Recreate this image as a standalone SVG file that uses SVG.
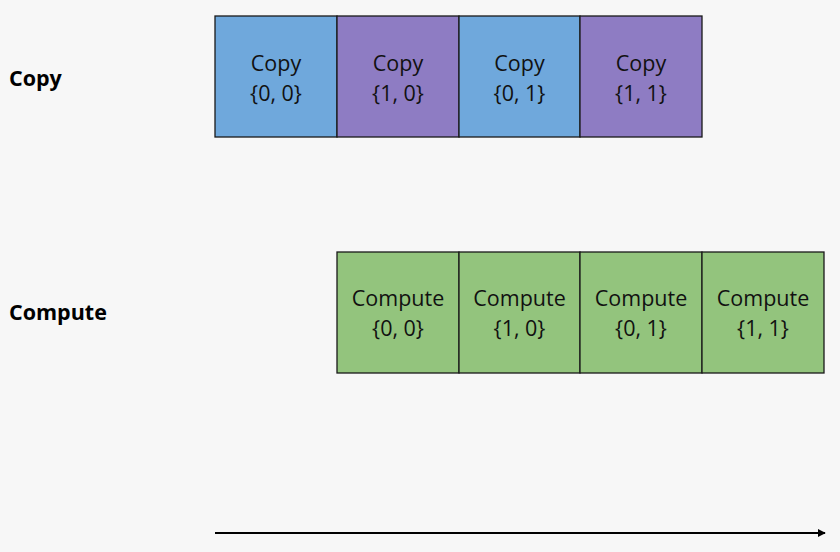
<svg xmlns="http://www.w3.org/2000/svg" width="840" height="552" viewBox="0 0 840 552">
<defs>
<style>
.box{stroke:#1a1a1a;stroke-width:1.3}
.blue{fill:#6fa8dc}
.purple{fill:#8e7cc3}
.green{fill:#93c47d}
.t{font-family:"Open Sans","Liberation Sans",sans-serif;font-size:21.5px;fill:#111;text-anchor:middle}
.lbl{font-family:"Open Sans","Liberation Sans",sans-serif;font-size:21.5px;font-weight:bold;fill:#000}
</style>
<marker id="arr" viewBox="0 0 10 10" refX="9" refY="5" markerWidth="4" markerHeight="4" orient="auto" markerUnits="strokeWidth">
<path d="M0,0 L10,5 L0,10 z" fill="#000"/>
</marker>
</defs>
<rect x="0" y="0" width="840" height="552" fill="#f7f7f7"/>
<g id="label-copy"><text class="lbl" x="9" y="86">Copy</text></g>
<g id="label-compute"><text class="lbl" x="9" y="320">Compute</text></g>
<g id="copy00"><rect class="box blue" x="215" y="16" width="122" height="121"/><text class="t" x="276" y="71">Copy</text><text class="t" x="276" y="101">{0, 0}</text></g>
<g id="copy10"><rect class="box purple" x="337" y="16" width="122" height="121"/><text class="t" x="398" y="71">Copy</text><text class="t" x="398" y="101">{1, 0}</text></g>
<g id="copy01"><rect class="box blue" x="459" y="16" width="121" height="121"/><text class="t" x="519.5" y="71">Copy</text><text class="t" x="519.5" y="101">{0, 1}</text></g>
<g id="copy11"><rect class="box purple" x="580" y="16" width="122" height="121"/><text class="t" x="641" y="71">Copy</text><text class="t" x="641" y="101">{1, 1}</text></g>
<g id="comp00"><rect class="box green" x="337" y="252" width="122" height="121"/><text class="t" x="398" y="306">Compute</text><text class="t" x="398" y="336">{0, 0}</text></g>
<g id="comp10"><rect class="box green" x="459" y="252" width="121" height="121"/><text class="t" x="519.5" y="306">Compute</text><text class="t" x="519.5" y="336">{1, 0}</text></g>
<g id="comp01"><rect class="box green" x="580" y="252" width="122" height="121"/><text class="t" x="641" y="306">Compute</text><text class="t" x="641" y="336">{0, 1}</text></g>
<g id="comp11"><rect class="box green" x="702" y="252" width="122" height="121"/><text class="t" x="763" y="306">Compute</text><text class="t" x="763" y="336">{1, 1}</text></g>
<g id="connectors"><line x1="215" y1="533" x2="825" y2="533" stroke="#000" stroke-width="2" marker-end="url(#arr)"/></g>
</svg>
